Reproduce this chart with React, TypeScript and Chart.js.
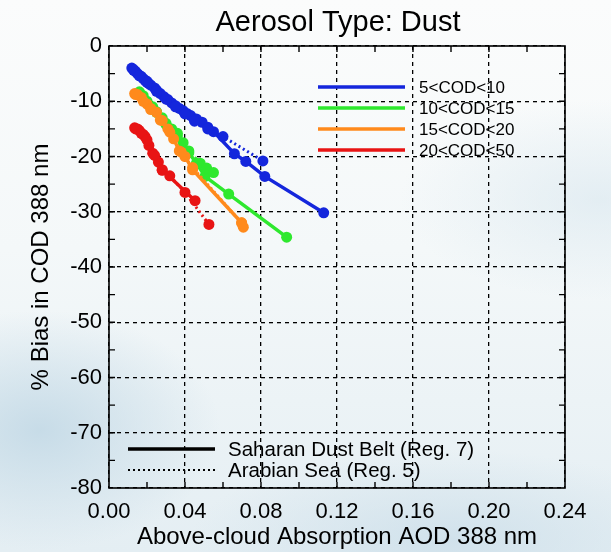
import React, { useEffect, useRef } from "react";
import { Chart, registerables } from "chart.js";

Chart.register(...registerables);

const TITLE = "Aerosol Type: Dust";
const X_TITLE = "Above-cloud Absorption AOD 388 nm";
const Y_TITLE = "% Bias in COD 388 nm";

const CATEGORY_LABELS = ["5<COD<10", "10<COD<15", "15<COD<20", "20<COD<50"];
const CATEGORY_COLORS = ["#1426dc", "#2ee82e", "#ff8a1c", "#e81414"];
const REGION_LABELS = ["Saharan Dust Belt (Reg. 7)", "Arabian Sea (Reg. 5)"];

// Saharan Dust Belt (solid)
const SAH_BLUE_X = [0.012, 0.013, 0.014, 0.015, 0.016, 0.017, 0.018, 0.019, 0.02, 0.021, 0.022, 0.024, 0.025, 0.027, 0.029, 0.031, 0.033, 0.035, 0.037, 0.039, 0.041, 0.043, 0.046, 0.049, 0.052, 0.055, 0.066, 0.072, 0.082, 0.113];
const SAH_BLUE_Y = [-4.0, -4.3, -4.6, -5.0, -5.3, -5.5, -5.9, -6.2, -6.4, -6.8, -7.1, -7.6, -8.0, -8.6, -9.2, -9.7, -10.3, -10.8, -11.3, -11.7, -12.2, -12.6, -13.2, -13.8, -14.7, -15.5, -19.5, -20.9, -23.6, -30.2];
const SAH_GREEN_X = [0.016, 0.018, 0.02, 0.023, 0.025, 0.028, 0.03, 0.033, 0.036, 0.039, 0.042, 0.046, 0.0505, 0.063, 0.0935];
const SAH_GREEN_Y = [-8.3, -9.0, -10.0, -11.0, -11.9, -13.0, -14.0, -15.0, -15.8, -17.5, -19.3, -21.2, -23.6, -26.8, -34.6];
const SAH_ORANGE_X = [0.0135, 0.015, 0.017, 0.02, 0.022, 0.025, 0.028, 0.031, 0.034, 0.037, 0.04, 0.044, 0.0698, 0.0707];
const SAH_ORANGE_Y = [-8.6, -8.8, -9.3, -10.5, -11.3, -12.0, -13.5, -15.0, -16.8, -19.0, -20.0, -22.4, -32.0, -32.8];
const SAH_RED_X = [0.0135, 0.015, 0.016, 0.018, 0.019, 0.021, 0.023, 0.026, 0.028, 0.0453];
const SAH_RED_Y = [-14.8, -15.0, -15.3, -16.0, -16.4, -18.0, -19.4, -21.0, -22.4, -28.0];

// Arabian Sea (dotted)
const ARA_BLUE_X = [0.013, 0.016, 0.02, 0.025, 0.03, 0.035, 0.04, 0.045, 0.052, 0.06, 0.081];
const ARA_BLUE_Y = [-4.4, -5.4, -6.6, -8.2, -9.6, -11.0, -12.3, -13.6, -15.0, -16.4, -20.8];
const ARA_GREEN_X = [0.016, 0.02, 0.025, 0.03, 0.036, 0.042, 0.048, 0.0514, 0.055];
const ARA_GREEN_Y = [-8.5, -10.2, -12.0, -14.2, -16.3, -19.0, -21.2, -22.1, -22.9];
const ARA_ORANGE_X = [0.014, 0.018, 0.022, 0.027, 0.032, 0.038, 0.044, 0.0698];
const ARA_ORANGE_Y = [-8.8, -10.0, -11.5, -13.4, -15.6, -19.2, -22.0, -32.0];
const ARA_RED_X = [0.014, 0.017, 0.02, 0.024, 0.028, 0.032, 0.04, 0.0526];
const ARA_RED_Y = [-15.0, -15.8, -17.0, -19.8, -22.5, -23.5, -26.5, -32.3];

const X_MIN = 0;
const X_MAX = 0.24;
const X_STEP = 0.04;
const X_MINOR = 0.02;
const Y_MIN = -80;
const Y_MAX = 0;
const Y_STEP = 10;
const Y_MINOR = 5;

const FONT = "'Liberation Sans', Arial, Helvetica, sans-serif";

const pts = (xs: number[], ys: number[]) => xs.map((x, i) => ({ x, y: ys[i] }));

const overlayPlugin = {
  id: "overlay",
  afterDraw(chart: any) {
    const { ctx, chartArea } = chart;
    const xs = chart.scales.x;
    const ys = chart.scales.y;
    const { left, right, top, bottom } = chartArea;
    ctx.save();
    // frame
    ctx.strokeStyle = "#000";
    ctx.lineWidth = 1.6;
    ctx.setLineDash([]);
    ctx.strokeRect(left, top, right - left, bottom - top);
    // minor ticks inward
    const tl = 6;
    ctx.lineWidth = 1.4;
    for (let v = X_MIN + X_MINOR; v < X_MAX - 1e-9; v += X_MINOR) {
      const px = xs.getPixelForValue(v);
      ctx.beginPath();
      ctx.moveTo(px, bottom);
      ctx.lineTo(px, bottom - tl);
      ctx.moveTo(px, top);
      ctx.lineTo(px, top + tl);
      ctx.stroke();
    }
    for (let v = Y_MIN + Y_MINOR; v < Y_MAX - 1e-9; v += Y_MINOR) {
      const py = ys.getPixelForValue(v);
      ctx.beginPath();
      ctx.moveTo(left, py);
      ctx.lineTo(left + tl, py);
      ctx.moveTo(right, py);
      ctx.lineTo(right - tl, py);
      ctx.stroke();
    }
    // title
    ctx.fillStyle = "#000";
    ctx.font = `29px ${FONT}`;
    ctx.textAlign = "center";
    ctx.textBaseline = "middle";
    ctx.fillText(TITLE, (left + right) / 2 + 1, 23);

    // category legend (upper right)
    ctx.textAlign = "left";
    ctx.font = `17px ${FONT}`;
    const lx0 = 318, lx1 = 405;
    CATEGORY_LABELS.forEach((lab, i) => {
      const y = 87 + i * 21;
      ctx.strokeStyle = CATEGORY_COLORS[i];
      ctx.lineWidth = 3.5;
      ctx.setLineDash([]);
      ctx.beginPath();
      ctx.moveTo(lx0, y);
      ctx.lineTo(lx1, y);
      ctx.stroke();
      ctx.fillStyle = "#000";
      ctx.fillText(lab, 419, y + 1);
    });

    // region legend (lower left)
    ctx.font = `20.5px ${FONT}`;
    REGION_LABELS.forEach((lab, i) => {
      const y = 449 + i * 21;
      ctx.strokeStyle = "#000";
      if (i === 0) {
        ctx.lineWidth = 3.5;
        ctx.setLineDash([]);
      } else {
        ctx.lineWidth = 2;
        ctx.setLineDash([2, 3]);
      }
      ctx.beginPath();
      ctx.moveTo(128, y);
      ctx.lineTo(215, y);
      ctx.stroke();
      ctx.setLineDash([]);
      ctx.fillStyle = "#000";
      ctx.fillText(lab, 228, y + 1);
    });
    ctx.restore();
  },
};

export default function App() {
  const ref = useRef<HTMLCanvasElement | null>(null);
  useEffect(() => {
    if (!ref.current) return;
    const solid = [
      pts(SAH_BLUE_X, SAH_BLUE_Y),
      pts(SAH_GREEN_X, SAH_GREEN_Y),
      pts(SAH_ORANGE_X, SAH_ORANGE_Y),
      pts(SAH_RED_X, SAH_RED_Y),
    ];
    const dotted = [
      pts(ARA_BLUE_X, ARA_BLUE_Y),
      pts(ARA_GREEN_X, ARA_GREEN_Y),
      pts(ARA_ORANGE_X, ARA_ORANGE_Y),
      pts(ARA_RED_X, ARA_RED_Y),
    ];
    const datasets: any[] = [];
    [3, 2, 1, 0].forEach((i) => {
      datasets.push({
        label: CATEGORY_LABELS[i] + " Arabian",
        data: dotted[i],
        borderColor: CATEGORY_COLORS[i],
        backgroundColor: CATEGORY_COLORS[i],
        borderWidth: 3,
        borderDash: [2, 3],
        pointRadius: 5.5,
        pointBorderWidth: 0,
        showLine: true,
      });
      datasets.push({
        label: CATEGORY_LABELS[i] + " Saharan",
        data: solid[i],
        borderColor: CATEGORY_COLORS[i],
        backgroundColor: CATEGORY_COLORS[i],
        borderWidth: 3.5,
        pointRadius: 5.5,
        pointBorderWidth: 0,
        showLine: true,
      });
    });
    const chart = new Chart(ref.current, {
      type: "scatter",
      data: { datasets },
      options: {
        animation: false,
        responsive: false,
        maintainAspectRatio: false,
        layout: { padding: { top: 46, right: 46, bottom: 0, left: 0 } },
        plugins: { legend: { display: false }, title: { display: false }, tooltip: { enabled: false } },
        scales: {
          x: {
            type: "linear",
            min: X_MIN,
            max: X_MAX,
            afterFit: (s: any) => { s.height = 64; },
            ticks: {
              stepSize: X_STEP,
              color: "#000",
              font: { family: FONT, size: 22 },
              padding: 11,
              maxRotation: 0,
              callback: (v: any) => Number(v).toFixed(2),
            },
            grid: { color: "#000", lineWidth: 1.3, drawTicks: false },
            border: { display: false, dash: [4, 4] },
            title: {
              display: true,
              text: X_TITLE,
              color: "#000",
              font: { family: FONT, size: 24 },
              padding: { top: 0, bottom: 0 },
            },
          },
          y: {
            type: "linear",
            min: Y_MIN,
            max: Y_MAX,
            afterFit: (s: any) => { s.width = 109; },
            ticks: {
              stepSize: Y_STEP,
              color: "#000",
              font: { family: FONT, size: 22 },
              padding: 7,
            },
            grid: { color: "#000", lineWidth: 1.3, drawTicks: false },
            border: { display: false, dash: [4, 4] },
            title: {
              display: true,
              text: Y_TITLE,
              color: "#000",
              font: { family: FONT, size: 24 },
              padding: { top: 27, bottom: 0 },
            },
          },
        },
      },
      plugins: [overlayPlugin],
    } as any);
    return () => chart.destroy();
  }, []);

  return (
    <div
      style={{
        position: "fixed",
        left: 0,
        top: 0,
        width: 611,
        height: 552,
        background:
          "radial-gradient(ellipse 180px 120px at 40px 430px, rgba(190,214,228,0.8), rgba(190,214,228,0) 100%)," +
          "radial-gradient(ellipse 260px 90px at 450px 540px, rgba(200,220,232,0.7), rgba(200,220,232,0) 100%)," +
          "radial-gradient(ellipse 200px 100px at 600px 200px, rgba(215,230,238,0.6), rgba(215,230,238,0) 100%)," +
          "linear-gradient(to bottom, #fbfcfc 0%, #f4f8f9 45%, #e4eef3 100%)",
      }}
    >
      <canvas ref={ref} width={611} height={552} style={{ display: "block" }} />
    </div>
  );
}
